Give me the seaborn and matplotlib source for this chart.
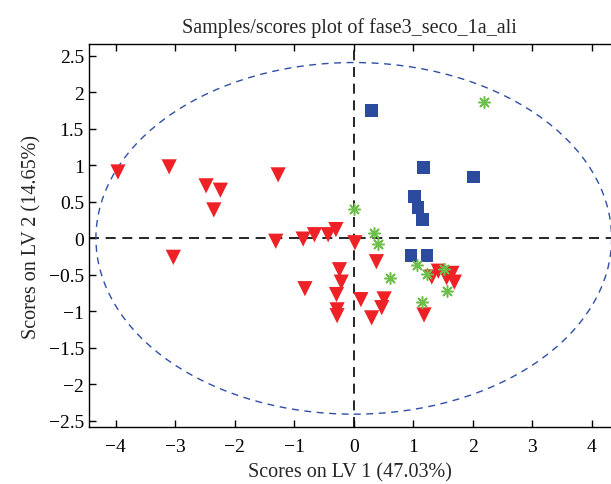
import numpy as np
import pandas as pd
import matplotlib
matplotlib.use("Agg")
import matplotlib.pyplot as plt
from matplotlib.patches import Ellipse
from matplotlib.ticker import FuncFormatter
import seaborn as sns

# Scores
red_lv1 = [-3.96, -3.10, -2.48, -2.24, -2.35, -1.27, -1.31, -3.03, -0.85, -0.66,
           -0.43, -0.30, 0.02, 0.38, -0.24, -0.21, -0.82, -0.29, 0.12, 0.51,
           0.47, -0.28, -0.28, 0.30, 1.18, 1.31, 1.42, 1.56, 1.65, 1.69]
red_lv2 = [0.91, 0.98, 0.72, 0.66, 0.39, 0.87, -0.04, -0.26, -0.01, 0.05,
           0.05, 0.12, -0.06, -0.32, -0.43, -0.60, -0.69, -0.77, -0.84, -0.83,
           -0.95, -0.98, -1.06, -1.09, -1.05, -0.53, -0.45, -0.54, -0.48, -0.60]
blue_lv1 = [0.30, 1.17, 2.01, 1.02, 1.08, 1.15, 0.96, 1.23]
blue_lv2 = [1.75, 0.97, 0.84, 0.57, 0.42, 0.26, -0.23, -0.23]
green_lv1 = [2.19, 0.00, 0.34, 0.40, 1.06, 1.23, 0.61, 1.51, 1.56, 1.14]
green_lv2 = [1.87, 0.40, 0.08, -0.08, -0.37, -0.49, -0.55, -0.42, -0.72, -0.87]

# 95% confidence limit ellipse semi-axes
ell_a = 4.33
ell_b = 2.41

x_ticks = [-4, -3, -2, -1, 0, 1, 2, 3, 4]
y_ticks = [-2.5, -2, -1.5, -1, -0.5, 0, 0.5, 1, 1.5, 2, 2.5]

sns.set_style("ticks")
plt.rcParams['font.family'] = ['Liberation Serif', 'DejaVu Serif']
plt.rcParams['axes.unicode_minus'] = True

fig = plt.figure(figsize=(6.11, 4.85), dpi=100)
ax = fig.add_axes([0.1453, 0.1169, 0.8547, 0.7897])

df_red = pd.DataFrame({'LV1': red_lv1, 'LV2': red_lv2})
df_blue = pd.DataFrame({'LV1': blue_lv1, 'LV2': blue_lv2})
df_green = pd.DataFrame({'LV1': green_lv1, 'LV2': green_lv2})

# Reference lines through origin
ax.axhline(0, color='black', lw=1.2, ls=(0, (6, 4)), zorder=1)
ax.axvline(0, color='black', lw=1.2, ls=(0, (6, 4)), zorder=1)

# Confidence ellipse
ell = Ellipse((0, 0), 2 * ell_a, 2 * ell_b, fill=False, edgecolor='#2f4fa5',
              lw=1.0, ls=(0, (5, 4)), zorder=1)
ax.add_patch(ell)

sns.scatterplot(data=df_red, x='LV1', y='LV2', ax=ax, marker='v', s=120,
                color='#ee2127', edgecolor='none', zorder=3)
sns.scatterplot(data=df_blue, x='LV1', y='LV2', ax=ax, marker='s', s=85,
                color='#2c4a9e', edgecolor='none', zorder=3)
sns.scatterplot(data=df_green, x='LV1', y='LV2', ax=ax, marker=(8, 2, 0), s=70,
                color='#6cc04a', linewidth=1.1, zorder=4)

ax.set_xlim(-4.45, 4.32)
ax.set_ylim(-2.59, 2.66)
ax.set_xticks(x_ticks)
ax.set_yticks(y_ticks)
ax.yaxis.set_major_formatter(FuncFormatter(lambda v, p: f"{v:g}".replace('-', '\u2212')))
ax.xaxis.set_major_formatter(FuncFormatter(lambda v, p: f"{v:g}".replace('-', '\u2212')))
ax.tick_params(direction='in', length=5, width=1, labelsize=14, top=True, right=False,
               colors='black')
ax.tick_params(axis='x', pad=8)
ax.spines['right'].set_visible(False)
for sp in ['left', 'bottom', 'top']:
    ax.spines[sp].set_color('black')
    ax.spines[sp].set_linewidth(1.0)

ax.set_title('Samples/scores plot of fase3_seco_1a_ali', fontsize=14.5, pad=9)
ax.set_xlabel('Scores on LV 1 (47.03%)', fontsize=14.5, labelpad=5)
ax.set_ylabel('Scores on LV 2 (14.65%)', fontsize=14.5, labelpad=5)

fig.savefig('out.png', dpi=100)
